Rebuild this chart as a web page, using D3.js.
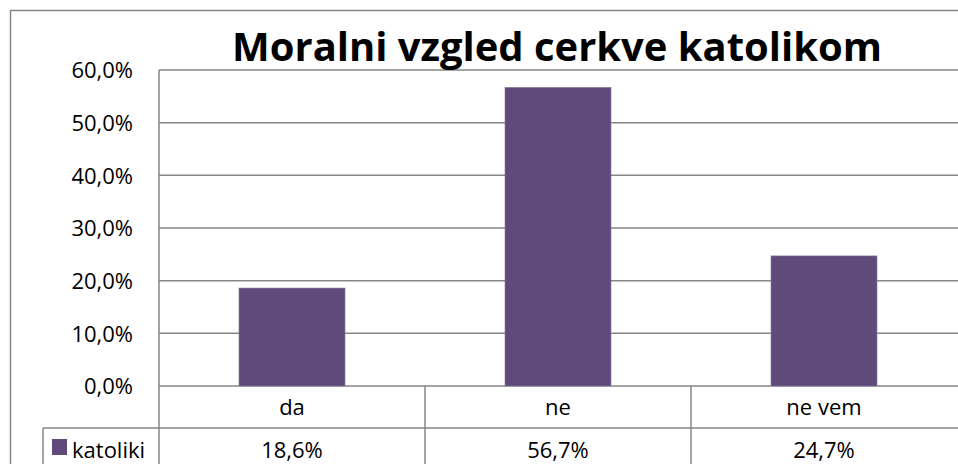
<!DOCTYPE html>
<html>
<head>
<meta charset="utf-8">
<script src="https://cdnjs.cloudflare.com/ajax/libs/d3/7.8.5/d3.min.js"></script>
<style>
  body { margin: 0; background: #fff; }
  text { font-family: "Open Sans", sans-serif; fill: #000; }
</style>
</head>
<body>
<div id="chart"></div>
<script>
// Chart data
var categories = ["da", "ne", "ne vem"];
var seriesName = "katoliki";
var values = [18.6, 56.7, 24.7];
var yTicks = [0, 10, 20, 30, 40, 50, 60];
var chartTitle = "Moralni vzgled cerkve katolikom";

// Set up the chart parameters
var svgWidth = 958;
var svgHeight = 464;

var margin = { top: 70, right: 1, bottom: 78, left: 159 };
var width = svgWidth - margin.left - margin.right;
var height = svgHeight - margin.top - margin.bottom;

var gridColor = "#868686";
var barColor = "#604a7b";
var rowHeight = 42;
var labelSize = "22px";

var svg = d3.select("#chart")
  .append("svg")
  .attr("width", svgWidth)
  .attr("height", svgHeight);

// outer chart border
svg.append("rect")
  .attr("x", 10.5)
  .attr("y", 10.5)
  .attr("width", svgWidth)
  .attr("height", svgHeight)
  .attr("fill", "none")
  .attr("stroke", gridColor)
  .attr("stroke-width", 1.5);

var chartGroup = svg.append("g")
  .attr("transform", `translate(${margin.left}, ${margin.top})`);

// Scales
var xScale = d3.scaleBand()
  .domain(categories)
  .range([0, width])
  .paddingInner(0)
  .paddingOuter(0);

var yScale = d3.scaleLinear()
  .domain([0, 60])
  .range([height, 0]);

// gridlines
chartGroup.append("g")
  .selectAll("line")
  .data(yTicks)
  .enter()
  .append("line")
  .attr("x1", 0)
  .attr("x2", width + 2)
  .attr("y1", d => yScale(d))
  .attr("y2", d => yScale(d))
  .attr("stroke", gridColor)
  .attr("stroke-width", 1.5);

// y axis labels
var leftAxis = d3.axisLeft(yScale)
  .tickValues(yTicks)
  .tickSize(0)
  .tickPadding(26)
  .tickFormat(d => d.toFixed(1).replace(".", ",") + "%");

var yAxis = chartGroup.append("g").call(leftAxis);
yAxis.select(".domain").remove();
yAxis.selectAll("text")
  .style("font-size", labelSize)
  .attr("dy", "0.35em");

// bars
var barWidth = 106;
chartGroup.selectAll(".bar")
  .data(values)
  .enter()
  .append("rect")
  .attr("class", "bar")
  .attr("x", (d, i) => xScale(categories[i]) + (xScale.bandwidth() - barWidth) / 2)
  .attr("y", d => yScale(d))
  .attr("width", barWidth)
  .attr("height", d => height - yScale(d))
  .attr("fill", barColor)
  .attr("stroke", "#8a78a0")
  .attr("stroke-width", 0.6);

// data table below the plot
var table = chartGroup.append("g")
  .attr("transform", `translate(0, ${height})`);

// left axis line through the table
chartGroup.append("line")
  .attr("x1", 0).attr("x2", 0)
  .attr("y1", 0).attr("y2", height + rowHeight * 2 + 10)
  .attr("stroke", gridColor)
  .attr("stroke-width", 1.5);

// vertical separators
table.selectAll(".sep")
  .data(categories.slice(1))
  .enter()
  .append("line")
  .attr("class", "sep")
  .attr("x1", d => xScale(d))
  .attr("x2", d => xScale(d))
  .attr("y1", 0)
  .attr("y2", rowHeight * 2 + 10)
  .attr("stroke", gridColor)
  .attr("stroke-width", 1.5);

// row separator (including legend cell)
table.append("line")
  .attr("x1", -116)
  .attr("x2", width + 2)
  .attr("y1", rowHeight)
  .attr("y2", rowHeight)
  .attr("stroke", gridColor)
  .attr("stroke-width", 1.5);

table.append("line")
  .attr("x1", -116)
  .attr("x2", -116)
  .attr("y1", rowHeight)
  .attr("y2", rowHeight * 2 + 10)
  .attr("stroke", gridColor)
  .attr("stroke-width", 1.5);

// category labels
table.selectAll(".cat")
  .data(categories)
  .enter()
  .append("text")
  .attr("class", "cat")
  .attr("x", d => xScale(d) + xScale.bandwidth() / 2)
  .attr("y", rowHeight / 2)
  .attr("dy", "0.35em")
  .style("text-anchor", "middle")
  .style("font-size", labelSize)
  .text(d => d);

// values row
table.selectAll(".val")
  .data(values)
  .enter()
  .append("text")
  .attr("class", "val")
  .attr("x", (d, i) => xScale(categories[i]) + xScale.bandwidth() / 2)
  .attr("y", rowHeight * 1.5 + 1)
  .attr("dy", "0.35em")
  .style("text-anchor", "middle")
  .style("font-size", labelSize)
  .text(d => d.toFixed(1).replace(".", ",") + "%");

// legend key in table
table.append("rect")
  .attr("x", -107)
  .attr("y", rowHeight + 11)
  .attr("width", 15)
  .attr("height", 16)
  .attr("fill", barColor);

table.append("text")
  .attr("x", -87)
  .attr("y", rowHeight * 1.5 + 1)
  .attr("dy", "0.35em")
  .style("font-size", labelSize)
  .text(seriesName);

// title
var title = svg.append("text")
  .attr("x", 557)
  .attr("y", 61)
  .style("text-anchor", "middle")
  .style("font-weight", "bold")
  .style("font-size", "40px")
  .text(chartTitle);

// fit the title to the reference width
var tw = title.node().getComputedTextLength();
title.style("font-size", (40 * 650 / tw) + "px");
</script>
</body>
</html>
